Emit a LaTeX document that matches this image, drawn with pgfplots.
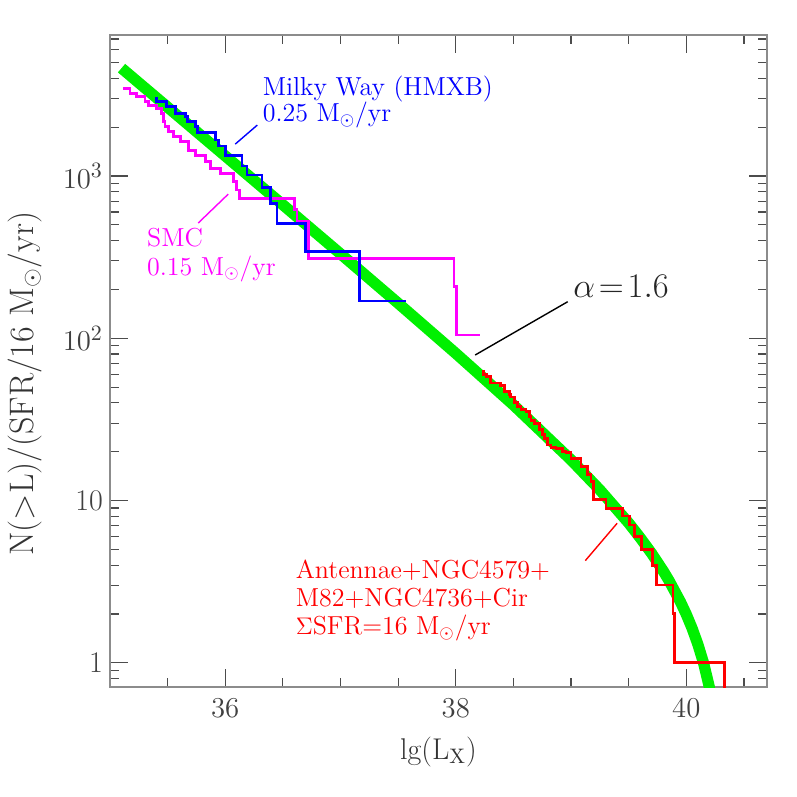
\documentclass[border=0pt]{standalone}
\usepackage{fontspec}
\usepackage{pgfplots}
\pgfplotsset{compat=1.18}
\definecolor{cgreen}{RGB}{0,240,0}
\definecolor{cmag}{RGB}{255,0,255}
\definecolor{cblue}{RGB}{0,0,255}
\definecolor{cred}{RGB}{255,0,0}
\newcommand{\annfont}{\fontsize{13}{15}\selectfont}
\begin{document}
\begin{tikzpicture}
\begin{axis}[
  at={(0,0)}, anchor=south west,
  scale only axis, width=328.5pt, height=326pt,
  xmin=35, xmax=40.7, ymode=log, ymin=0.71, ymax=7400,
  xtick={36,38,40},
  minor xtick={35.5,36.5,37,37.5,38.5,39,39.5,40.5},
  ytick={1,10,100,1000}, yticklabels={1,10,$10^2$,$10^3$},
  minor ytick={0.8,0.9,2,3,4,5,6,7,8,9,20,30,40,50,60,70,80,90,200,300,400,500,600,700,800,900,2000,3000,4000,5000,6000,7000},
  major tick length=9pt, minor tick length=4.5pt,
  tick align=inside,
  axis line style={black!45, line width=0.8pt},
  every tick/.style={black!70, line width=0.6pt},
  tick label style={font=\fontsize{15}{18}\selectfont, text=black!75},
  xticklabel style={yshift=-2.5pt},
  xlabel={lg(L$_\mathrm{X}$)},
  ylabel={N($>$L)/(SFR/16 M$_\odot$/yr)},
  xlabel style={font=\fontsize{15}{18}\selectfont, text=black!80, at={(axis description cs:0.5,-0.0997)}, anchor=center},
  ylabel style={font=\fontsize{17}{20}\selectfont\addfontfeatures{FakeStretch=1.1}, text=black!80, at={(axis description cs:-0.129,0.465)}, anchor=center, rotate=0},
]
% model curve alpha=1.6 with cutoff
\addplot[cgreen, line width=5.6pt, line join=round, line cap=butt] table {
35.10 4624
35.50 2657
36.00 1330
36.50 665
37.00 331.6
37.50 164.5
38.00 80.8
38.50 38.86
39.00 17.82
39.25 11.64
39.50 7.275
39.60 5.90
39.70 4.717
39.80 3.68
39.85 3.214
39.95 2.37
40.00 1.99
40.05 1.635
40.10 1.303
40.15 0.997
40.20 0.709
40.22 0.60
};
% SMC
\addplot[cmag, line width=1.4pt] table {
35.116 3467
35.174 3467
35.174 3236
35.232 3236
35.232 3083
35.304 3083
35.304 2870
35.333 2870
35.333 2735
35.406 2735
35.406 2612
35.449 2612
35.449 2432
35.464 2432
35.464 2161
35.478 2161
35.478 2014
35.507 2014
35.507 1875
35.551 1875
35.551 1746
35.609 1746
35.609 1626
35.681 1626
35.681 1445
35.739 1445
35.739 1346
35.826 1346
35.826 1225
35.870 1225
35.870 1115
35.957 1115
35.957 1039
36.072 1039
36.072 923
36.101 923
36.101 820
36.125 820
36.125 729
36.600 729
36.600 624
36.623 624
36.623 523
36.725 523
36.725 311
37.985 311
37.985 208
38.009 208
38.009 104.7
38.211 104.7
};
% Milky Way HMXB
\addplot[cblue, line width=1.4pt] table {
35.406 3083
35.406 2870
35.493 2870
35.493 2698
35.565 2698
35.565 2432
35.652 2432
35.652 2317
35.675 2317
35.675 2161
35.739 2161
35.739 2014
35.762 2014
35.762 1858
35.913 1858
35.913 1667
35.942 1667
35.942 1531
36.000 1531
36.000 1346
36.145 1346
36.145 1152
36.188 1152
36.188 1014
36.319 1014
36.319 850
36.391 850
36.391 679
36.449 679
36.449 512
36.696 512
36.696 342
37.168 342
37.168 170
37.565 170
};
% Antennae + others
\addplot[cred, line width=1.4pt] table {
38.241 64
38.241 60
38.270 60
38.270 58
38.304 58
38.304 53
38.391 53
38.391 51
38.420 51
38.420 47
38.464 47
38.464 45
38.478 45
38.478 43.5
38.507 43.5
38.507 40
38.536 40
38.536 38
38.565 38
38.565 36.5
38.609 36.5
38.609 35.5
38.638 35.5
38.638 33
38.652 33
38.652 31
38.681 31
38.681 30
38.725 30
38.725 27.5
38.754 27.5
38.754 25.5
38.768 25.5
38.768 24.2
38.797 24.2
38.797 22
38.826 22
38.826 21.3
38.870 21.3
38.870 21
38.928 21
38.928 20
38.957 20
38.957 19.7
39.000 19.7
39.000 18.2
39.087 18.2
39.087 16.2
39.145 16.2
39.145 14.4
39.174 14.4
39.174 13.1
39.197 13.1
39.197 10.1
39.304 10.1
39.304 8.97
39.449 8.97
39.449 8.04
39.507 8.04
39.507 7.08
39.551 7.08
39.551 6.0
39.609 6.0
39.609 4.97
39.710 4.97
39.710 4.0
39.739 4.0
39.739 3.02
39.884 3.02
39.884 2.02
39.899 2.02
39.899 1.0
40.328 1.0
40.328 0.5
};
% annotations
\draw[cblue, line width=0.7pt] (axis cs:36.087,1574) -- (axis cs:36.278,2061);
\node[cblue, anchor=base west, inner sep=0pt, font=\annfont] at (axis cs:36.322,3155) {Milky Way (HMXB)};
\node[cblue, anchor=base west, inner sep=0pt, font=\annfont] at (axis cs:36.322,2164) {0.25 M$_\odot$/yr};
\draw[cmag, line width=0.7pt] (axis cs:35.765,513) -- (axis cs:36.026,774);
\node[cmag, anchor=base west, inner sep=0pt, font=\annfont] at (axis cs:35.319,366) {SMC};
\node[cmag, anchor=base west, inner sep=0pt, font=\annfont] at (axis cs:35.319,245.5) {0.15 M$_\odot$/yr};
\draw[black, line width=0.7pt] (axis cs:38.971,168.1) -- (axis cs:38.168,78.9);
\node[black!85, anchor=base west, inner sep=0pt, font=\fontsize{17}{20}\selectfont] at (axis cs:39.017,177.8) {$\alpha\!=\!1.6$};
\draw[cred, line width=0.7pt] (axis cs:39.124,4.266) -- (axis cs:39.4,7.25);
\node[cred, anchor=base west, inner sep=0pt, font=\annfont] at (axis cs:36.609,3.29) {Antennae+NGC4579+};
\node[cred, anchor=base west, inner sep=0pt, font=\annfont] at (axis cs:36.609,2.21) {M82+NGC4736+Cir};
\node[cred, anchor=base west, inner sep=0pt, font=\annfont] at (axis cs:36.609,1.486) {$\Sigma$SFR=16 M$_\odot$/yr};
\end{axis}
\path (current axis.south west) ++(-55pt,-55pt) coordinate (bbA);
\path (current axis.north east) ++(15pt,17.5pt) coordinate (bbB);
\path (bbA) rectangle (bbB);
\end{tikzpicture}
\end{document}
